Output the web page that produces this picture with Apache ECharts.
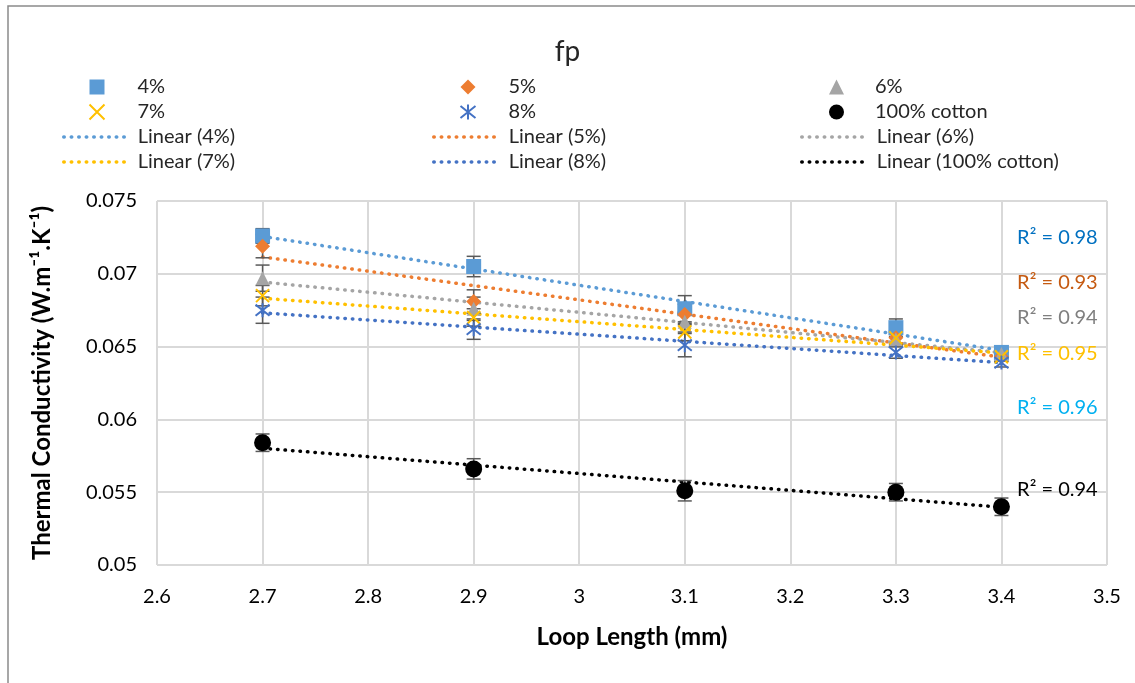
<!DOCTYPE html>
<html><head><meta charset="utf-8">
<script src="https://cdn.jsdelivr.net/npm/echarts@6/dist/echarts.min.js"></script>
<style>html,body{margin:0;padding:0;background:#fff}#c{width:1135px;height:683px}</style>
</head><body><div id="c"></div>
<script>
// ---- data ----
const loopLength = [2.7, 2.9, 3.1, 3.3, 3.4];
const s4   = [0.0726, 0.0705, 0.0676, 0.0663, 0.0646];
const s5   = [0.0719, 0.0681, 0.0672, 0.0656, 0.0643];
const s6   = [0.0697, 0.0676, 0.0667, 0.0655, 0.0645];
const s7   = [0.0685, 0.0670, 0.0660, 0.0656, 0.0643];
const s8   = [0.0675, 0.0662, 0.0651, 0.0646, 0.0639];
const sCot = [0.0584, 0.0566, 0.0551, 0.0550, 0.0540];
const e4   = [0.0005, 0.0007, 0.0009, 0.0006, 0.0003];
const e5   = [0.0008, 0.0008, 0.0007, 0.0005, 0.0003];
const e6   = [0.0009, 0.0008, 0.0007, 0.0005, 0.0003];
const e7   = [0.0007, 0.0006, 0.0006, 0.0004, 0.0003];
const e8   = [0.0009, 0.0007, 0.0008, 0.0004, 0.0003];
const eCot = [0.0006, 0.0007, 0.0007, 0.0006, 0.0006];
const seriesNames = ['4%', '5%', '6%', '7%', '8%', '100% cotton'];
const r2Labels = ['R² = 0.98', 'R² = 0.93', 'R² = 0.94', 'R² = 0.95', 'R² = 0.96', 'R² = 0.94'];
const xTicks = [2.6, 3.5, 0.1];
const yTicks = [0.05, 0.075, 0.005];

const values = [s4, s5, s6, s7, s8, sCot];
const errs = [e4, e5, e6, e7, e8, eCot];
const colors = ['#5B9BD5', '#ED7D31', '#A5A5A5', '#FFC000', '#4472C4', '#000000'];
const r2Colors = ['#0070C0', '#C55A11', '#7F7F7F', '#FFC000', '#00B0F0', '#000000'];
const r2Y = [0.0725, 0.0694, 0.0670, 0.0645, 0.0608, 0.0552];
const r2X = 3.453;
const symbols = [
  'rect', 'diamond', 'triangle',
  'path://M0,0L10,10M10,0L0,10',
  'path://M0,1L10,9M10,1L0,9M5,0L5,10',
  'circle'
];
const symSizes = [15, 15, 14, 13, 14, 17];
const FONT = 'Lato, "Noto Sans", sans-serif';

function fit(xs, ys) {
  const n = xs.length;
  const mx = xs.reduce((a, b) => a + b, 0) / n, my = ys.reduce((a, b) => a + b, 0) / n;
  let sxy = 0, sxx = 0;
  for (let i = 0; i < n; i++) { sxy += (xs[i] - mx) * (ys[i] - my); sxx += (xs[i] - mx) ** 2; }
  const b = sxy / sxx, a = my - b * mx;
  return [[xs[0], a + b * xs[0]], [xs[n - 1], a + b * xs[n - 1]]];
}

const series = [];
values.forEach((vals, k) => {
  series.push({
    type: 'custom', name: 'err' + k, silent: true, z: 3,
    data: vals.map((v, i) => [loopLength[i], v - errs[k][i], v + errs[k][i]]),
    renderItem: function (params, api) {
      const lo = api.coord([api.value(0), api.value(1)]);
      const hi = api.coord([api.value(0), api.value(2)]);
      const w = 7;
      const st = { stroke: '#595959', lineWidth: 1.5 };
      return { type: 'group', children: [
        { type: 'line', shape: { x1: lo[0], y1: lo[1], x2: hi[0], y2: hi[1] }, style: st },
        { type: 'line', shape: { x1: lo[0] - w, y1: lo[1], x2: lo[0] + w, y2: lo[1] }, style: st },
        { type: 'line', shape: { x1: hi[0] - w, y1: hi[1], x2: hi[0] + w, y2: hi[1] }, style: st }
      ]};
    }
  });
});
values.forEach((vals, k) => {
  const isStroke = k === 3 || k === 4;
  series.push({
    type: 'scatter', name: seriesNames[k], z: 4,
    symbol: symbols[k], symbolSize: symSizes[k],
    itemStyle: isStroke ? { color: 'none', borderColor: colors[k], borderWidth: 2, opacity: 1 } : { color: colors[k], opacity: 1 },
    data: vals.map((v, i) => [loopLength[i], v])
  });
});
values.forEach((vals, k) => {
  series.push({
    type: 'line', name: 'Linear (' + seriesNames[k] + ')', z: 2,
    symbol: 'none', silent: true,
    lineStyle: { color: colors[k], width: 3.5, type: [0.5, 7], cap: 'round' },
    itemStyle: { color: colors[k] },
    data: fit(loopLength, vals)
  });
});

const LEG_FS = 20, ROW = 25, TOP = 74.5;
function markerLegend(left, names, pad) {
  return {
    orient: 'vertical', left: left, top: TOP, padding: 0,
    itemWidth: 15, itemHeight: 15, itemGap: 0,
    textStyle: { fontSize: LEG_FS, fontFamily: FONT, color: '#262626', padding: [0, 0, 0, pad], lineHeight: ROW },
    data: names, selectedMode: false
  };
}
function lineLegend(left, names, pad) {
  return {
    orient: 'vertical', left: left, top: TOP + 2 * ROW, padding: 0,
    itemWidth: 66, itemHeight: 14, itemGap: 0,
    itemStyle: { opacity: 0 },
    lineStyle: { width: 3.5, type: [0.5, 7], cap: 'round' },
    textStyle: { fontSize: LEG_FS, fontFamily: FONT, color: '#262626', padding: [0, 0, 0, pad], lineHeight: ROW },
    data: names, selectedMode: false
  };
}

const option = {
  animation: false,
  backgroundColor: '#fff',
  title: { text: 'fp', left: 'center', top: 33, textStyle: { fontSize: 28, fontWeight: 'normal', fontFamily: FONT, color: '#262626' } },
  legend: [
    markerLegend(87, ['4%', '7%'], 28),
    markerLegend(458, ['5%', '8%'], 28),
    markerLegend(829, ['6%', '100% cotton'], 26),
    lineLegend(62, ['Linear (4%)', 'Linear (7%)'], 3),
    lineLegend(432, ['Linear (5%)', 'Linear (8%)'], 4),
    lineLegend(800, ['Linear (6%)', 'Linear (100% cotton)'], 4)
  ],
  grid: { left: 157, right: 28, top: 201, bottom: 118 },
  xAxis: {
    type: 'value', min: xTicks[0], max: xTicks[1], interval: xTicks[2],
    name: 'Loop Length (mm)', nameLocation: 'middle', nameGap: 60,
    nameTextStyle: { fontSize: 24, fontWeight: 'bold', fontFamily: FONT, color: '#000' },
    axisLine: { show: false }, axisTick: { show: false },
    axisLabel: { fontSize: 20, fontFamily: FONT, color: '#000', margin: 22, formatter: v => +v.toFixed(1) + '' },
    splitLine: { lineStyle: { color: '#D9D9D9', width: 2 } }
  },
  yAxis: {
    type: 'value', min: yTicks[0], max: yTicks[1], interval: yTicks[2],
    name: 'Thermal Conductivity (W.m⁻¹.K⁻¹)', nameLocation: 'middle', nameGap: 103,
    nameTextStyle: { fontSize: 24, fontWeight: 'bold', fontFamily: FONT, color: '#000' },
    axisLine: { show: false }, axisTick: { show: false },
    axisLabel: { fontSize: 20, fontFamily: FONT, color: '#000', margin: 20, formatter: v => +v.toFixed(3) + '' },
    splitLine: { lineStyle: { color: '#D9D9D9', width: 2 } }
  },
  series: series
};
const chart = echarts.init(document.getElementById('c'));
chart.setOption(option);
const graphics = [{ type: 'rect', shape: { x: 8, y: 6, width: 1140, height: 690 }, style: { fill: 'none', stroke: '#8a8a8a', lineWidth: 1.5 }, silent: true, z: -1 }];
r2Labels.forEach((t, k) => {
  const p = chart.convertToPixel({ gridIndex: 0 }, [r2X, r2Y[k]]);
  graphics.push({ type: 'text', x: p[0], y: p[1], z: 10, silent: true,
    style: { text: t, fill: r2Colors[k], font: '20px ' + FONT, align: 'center', verticalAlign: 'middle' } });
});
chart.setOption({ graphic: graphics });
</script></body></html>
